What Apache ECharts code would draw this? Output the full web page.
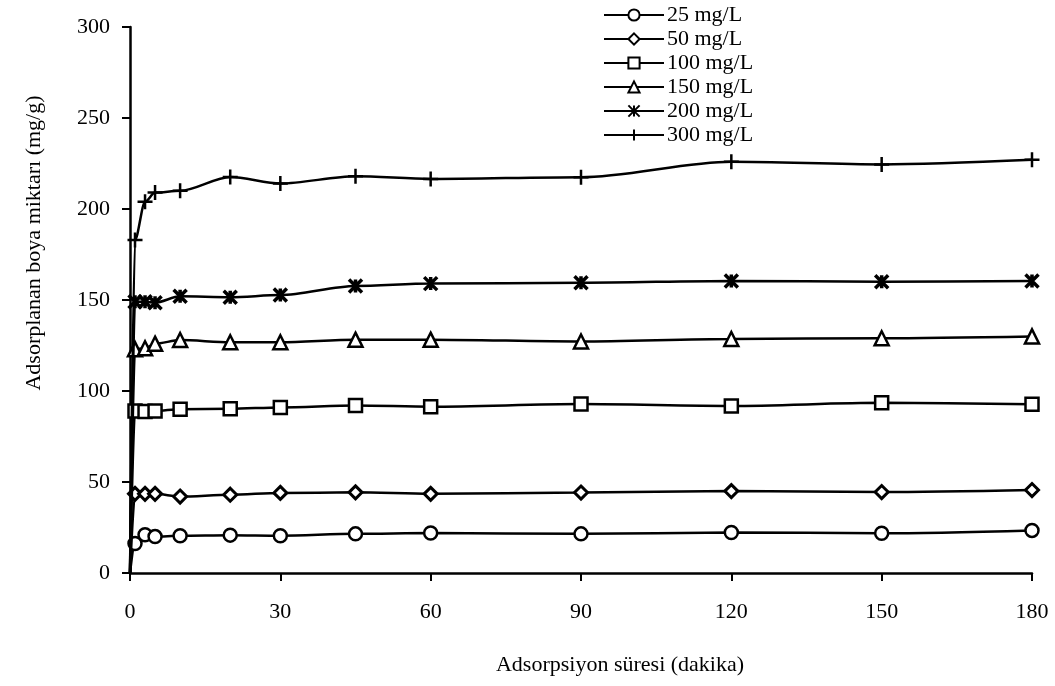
<!DOCTYPE html>
<html>
<head>
<meta charset="utf-8">
<script src="https://cdn.jsdelivr.net/npm/echarts@6/dist/echarts.min.js"></script>
<style>html,body{margin:0;padding:0;background:#fff;}#c{width:1055px;height:686px;}</style>
</head>
<body>
<div id="c"></div>
<script>
// ---- data ----
var times = [0, 1, 3, 5, 10, 20, 30, 45, 60, 90, 120, 150, 180];
var seriesNames = ['25 mg/L', '50 mg/L', '100 mg/L', '150 mg/L', '200 mg/L', '300 mg/L'];
var c25  = [0, 16.2, 21.0, 20.0, 20.5, 20.8, 20.5, 21.5, 22.0, 21.5, 22.3, 21.8, 23.4];
var c50  = [0, 43.5, 43.5, 43.5, 42.0, 43.0, 44.0, 44.3, 43.5, 44.2, 45.0, 44.5, 45.6];
var c100 = [0, 89.0, 88.7, 89.0, 90.0, 90.2, 91.0, 92.0, 91.4, 92.8, 91.8, 93.5, 92.7];
var c150 = [0, 123.0, 123.5, 126.0, 128.0, 126.8, 126.8, 128.2, 128.2, 127.2, 128.6, 129.0, 130.0];
var c200 = [0, 149.0, 149.0, 148.5, 152.0, 151.5, 152.7, 157.7, 159.0, 159.5, 160.5, 160.0, 160.5];
var c300 = [0, 183.0, 204.0, 209.0, 210.0, 217.6, 214.0, 218.0, 216.5, 217.5, 226.0, 224.5, 227.0];
var xTicks = [0, 30, 60, 90, 120, 150, 180];
var yTicks = [0, 50, 100, 150, 200, 250, 300];

var allValues = [c25, c50, c100, c150, c200, c300];
var symbols = [
  'circle',
  'diamond',
  'rect',
  'triangle',
  'path://M0,0 L10,10 M10,0 L0,10 M5,0 L5,10',
  'path://M0,5 L10,5 M5,0 L5,10'
];
var symbolSizes = [13, 13, 13, 14, 13, 15];
var borderWidths = [2.5, 3, 2.5, 2.5, 3.5, 2.5];
var FONT = '"Liberation Serif", "Times New Roman", serif';

var series = allValues.map(function (vals, i) {
  return {
    name: seriesNames[i],
    type: 'line',
    smooth: 0.3,
    smoothMonotone: 'x',
    symbol: symbols[i],
    symbolSize: symbolSizes[i],
    showAllSymbol: true,
    lineStyle: { color: '#000', width: 2.5 },
    itemStyle: { color: '#fff', borderColor: '#000', borderWidth: borderWidths[i] },
    emphasis: { disabled: true },
    data: vals.map(function (v, k) {
      var item = { value: [times[k], v] };
      if (times[k] === 0) { item.symbol = 'none'; }
      return item;
    }),
    z: 3 + i
  };
});

var chart = echarts.init(document.getElementById('c'), null, { renderer: 'canvas' });
chart.setOption({
  animation: false,
  backgroundColor: '#fff',
  grid: { left: 130, right: 23, top: 27, bottom: 113, containLabel: false },
  xAxis: {
    type: 'value', min: 0, max: 180, interval: 30,
    axisLine: { show: true, onZero: false, lineStyle: { color: '#000', width: 2.5 } },
    axisTick: { show: true, length: 8, inside: false, lineStyle: { color: '#000', width: 2 } },
    splitLine: { show: false },
    axisLabel: {
      color: '#000', fontFamily: FONT, fontSize: 22, margin: 28,
      formatter: function (v) { return xTicks.indexOf(v) >= 0 ? String(v) : ''; }
    }
  },
  yAxis: {
    type: 'value', min: 0, max: 300, interval: 50,
    axisLine: { show: true, lineStyle: { color: '#000', width: 2.5 } },
    axisTick: { show: true, length: 8, inside: false, lineStyle: { color: '#000', width: 2 } },
    splitLine: { show: false },
    axisLabel: {
      color: '#000', fontFamily: FONT, fontSize: 22, margin: 20,
      formatter: function (v) { return yTicks.indexOf(v) >= 0 ? String(v) : ''; }
    }
  },
  legend: {
    orient: 'vertical',
    left: 603, top: 4,
    itemWidth: 60, itemHeight: 14, itemGap: 2,
    padding: 0,
    data: seriesNames,
    textStyle: { color: '#000', fontFamily: FONT, fontSize: 22, lineHeight: 22, padding: [0, 0, 0, -2] },
    selectedMode: false
  },
  graphic: [
    {
      type: 'text', x: 34, y: 243, rotation: Math.PI / 2,
      style: {
        text: 'Adsorplanan boya miktarı (mg/g)',
        fill: '#000', font: '22px ' + FONT,
        textAlign: 'center', textVerticalAlign: 'middle'
      }
    },
    {
      type: 'text', x: 620, y: 665,
      style: {
        text: 'Adsorpsiyon süresi (dakika)',
        fill: '#000', font: '22px ' + FONT,
        textAlign: 'center', textVerticalAlign: 'middle'
      }
    }
  ],
  series: series
});
</script>
</body>
</html>
